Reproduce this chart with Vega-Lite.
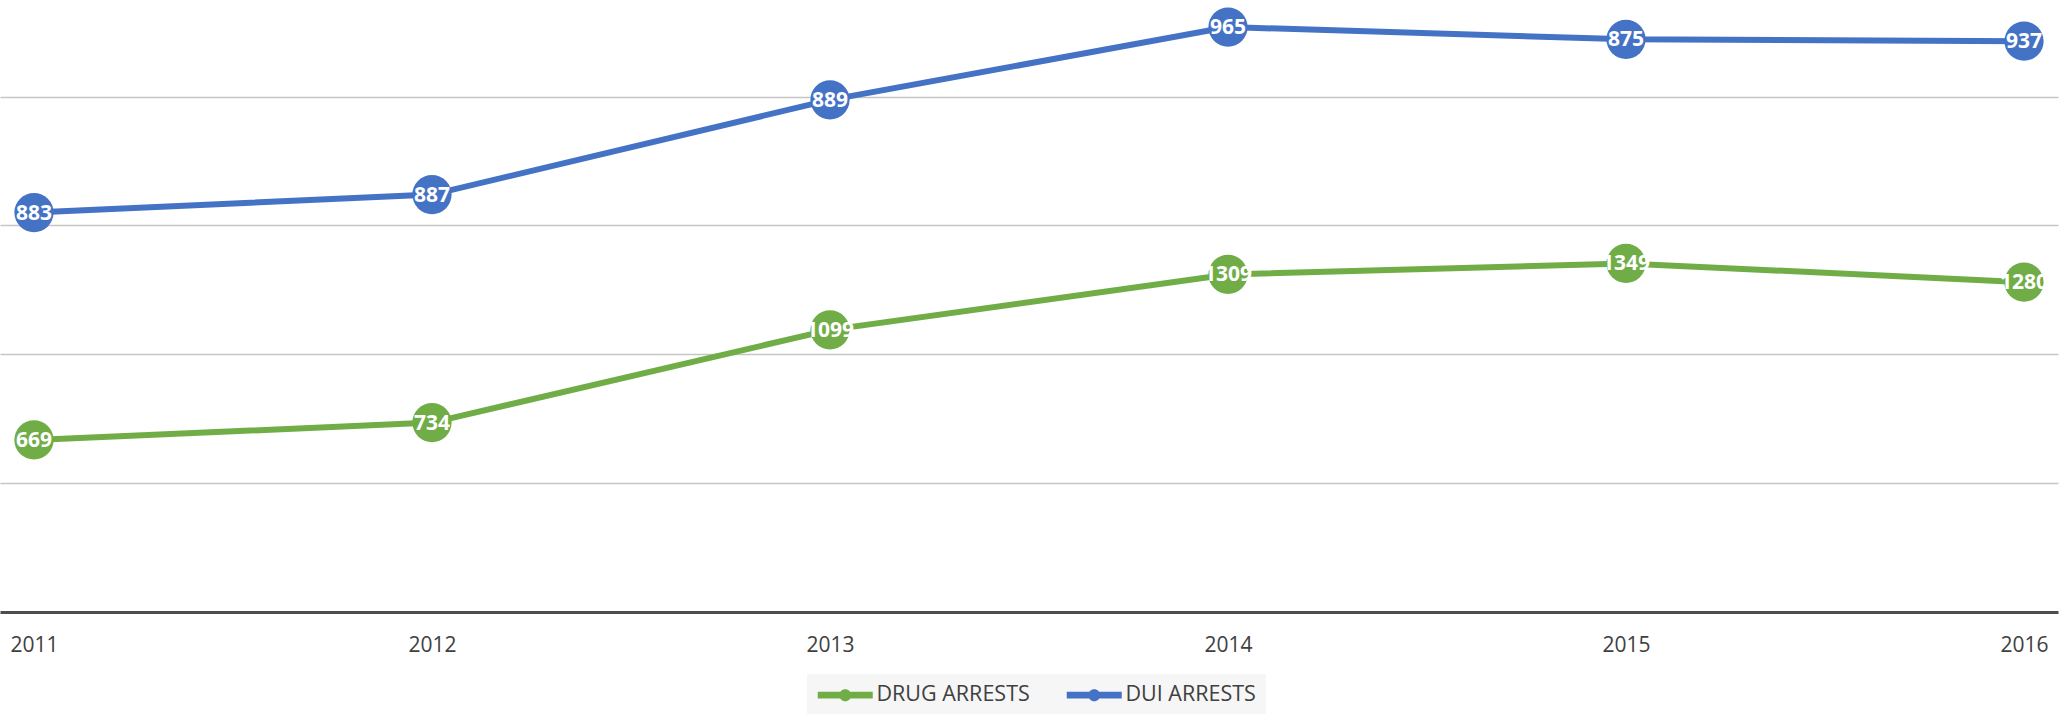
{
  "$schema": "https://vega.github.io/schema/vega-lite/v6.json",
  "width": 2058,
  "height": 612,
  "autosize": {"type": "none"},
  "padding": {"left": 0, "top": 0, "right": 3, "bottom": 102},
  "background": "white",
  "config": {"view": {"stroke": null}, "font": "Open Sans"},
  "data": {
    "values": [
      {"year": "2011", "series": "DRUG ARRESTS", "value": 267, "label": "669"},
      {"year": "2012", "series": "DRUG ARRESTS", "value": 294, "label": "734"},
      {"year": "2013", "series": "DRUG ARRESTS", "value": 438, "label": "1099"},
      {"year": "2014", "series": "DRUG ARRESTS", "value": 524, "label": "1309"},
      {"year": "2015", "series": "DRUG ARRESTS", "value": 541, "label": "1349"},
      {"year": "2016", "series": "DRUG ARRESTS", "value": 512, "label": "1280"},
      {"year": "2011", "series": "DUI ARRESTS", "value": 620, "label": "883"},
      {"year": "2012", "series": "DUI ARRESTS", "value": 648, "label": "887"},
      {"year": "2013", "series": "DUI ARRESTS", "value": 795, "label": "889"},
      {"year": "2014", "series": "DUI ARRESTS", "value": 908, "label": "965"},
      {"year": "2015", "series": "DUI ARRESTS", "value": 889, "label": "875"},
      {"year": "2016", "series": "DUI ARRESTS", "value": 886, "label": "937"}
    ]
  },
  "encoding": {
    "x": {
      "field": "year",
      "type": "ordinal",
      "scale": {"type": "point", "padding": 0.0854},
      "axis": {
        "title": null,
        "domainColor": "#4d4d4d",
        "domainWidth": 3,
        "ticks": false,
        "grid": false,
        "labelAngle": 0,
        "labelFontSize": 21,
        "labelColor": "#404040",
        "labelPadding": 22
      }
    },
    "y": {
      "field": "value",
      "type": "quantitative",
      "scale": {"domain": [0, 950], "nice": false},
      "axis": {
        "title": null,
        "labels": false,
        "ticks": false,
        "domain": false,
        "grid": true,
        "gridColor": "#c6c6c6",
        "gridWidth": 1.5,
        "values": [200, 400, 600, 800]
      }
    },
    "color": {
      "field": "series",
      "type": "nominal",
      "scale": {"domain": ["DRUG ARRESTS", "DUI ARRESTS"], "range": ["#70ad47", "#4472c4"]},
      "legend": {
        "orient": "none",
        "legendX": 807,
        "legendY": 674,
        "direction": "horizontal",
        "title": null,
        "fillColor": "#f6f6f6",
        "padding": 10,
        "symbolType": "M-1,-0.33L4.5,-0.33L4.5,0.33L-1,0.33Z M2.35,0A0.6,0.6,0,1,1,1.15,0A0.6,0.6,0,1,1,2.35,0Z",
        "symbolSize": 400,
        "symbolStrokeWidth": 0,
        "labelFontSize": 21.5,
        "labelColor": "#404040",
        "labelOffset": 38,
        "columnPadding": 36,
        "encode": {
          "symbols": {
            "update": {
              "fill": {"scale": "color", "field": "value"},
              "stroke": {"value": "transparent"}
            }
          }
        }
      }
    }
  },
  "layer": [
    {"mark": {"type": "line", "strokeWidth": 6, "strokeCap": "round"}},
    {"mark": {"type": "circle", "size": 1540, "opacity": 1}},
    {
      "mark": {"type": "text", "fontWeight": "bold", "fontSize": 21, "align": "center", "baseline": "middle", "dy": 1},
      "encoding": {"text": {"field": "label"}, "color": {"value": "white"}}
    }
  ]
}
